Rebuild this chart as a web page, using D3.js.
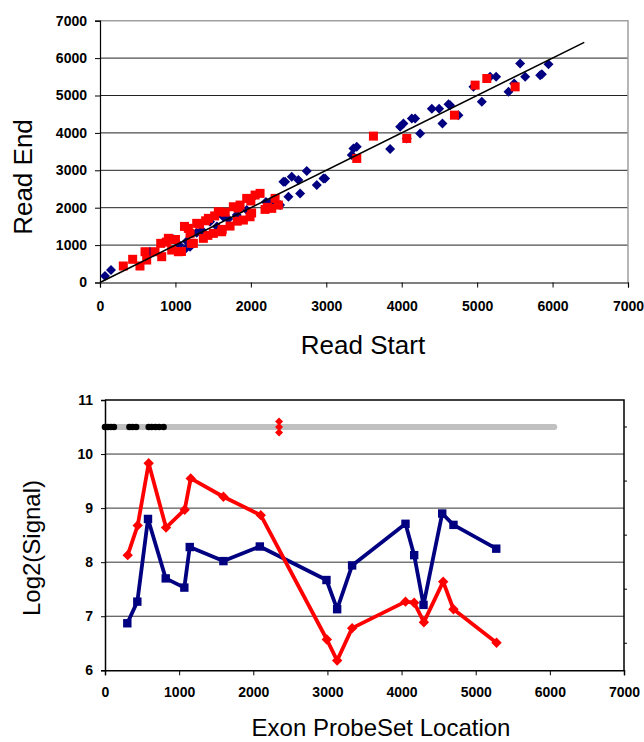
<!DOCTYPE html>
<html><head><meta charset="utf-8">
<script src="https://cdn.jsdelivr.net/npm/d3@7"></script>
<style>body{margin:0;background:#fff}svg{display:block}</style>
</head><body>
<svg id="c" width="644" height="742"></svg>
<script>
// ---- Top chart data (Read Start vs Read End) ----
const blueStart = [66,146,663,972,1127,1194,1282,1459,1635,1813,1945,2034,2387,2454,2542,2498,2630,2653,2741,2874,2962,3360,3404,3338,3846,3979,4023,4067,4134,4178,4244,4399,4496,4540,4620,4642,4752,4951,5062,5172,5252,5416,5491,5570,5637,5836,5858,5946,1050,1150,1350,1550,1700,2200,2300,2250,2431,2984];
const blueEnd   = [174,334,823,1154,887,957,1331,1625,1758,1803,1937,2292,2070,2693,2827,2292,2738,2383,2979,2605,2784,3585,3628,3406,3567,4163,4253,3852,4387,4387,3986,4644,4644,4253,4769,4742,4475,5231,4830,5498,5498,5098,5321,5856,5498,5544,5570,5838,1000,1100,1400,1500,1700,2150,2200,2100,2693,2784];
const redStart = [309,433,530,597,619,729,805,818,906,951,1039,1171,1194,1282,1238,1370,1437,1503,1569,1613,1724,1768,1857,1901,1945,1989,2056,2122,2188,2277,2321,2365,3404,3625,4067,4699,4973,5128,5504,1000,1120,1320,1400,1520,1660,1830,2000,1210,1430,1620,1820,2010,2220,880,1080];
const redEnd   = [441,620,441,823,601,823,1047,690,1181,868,823,1448,1314,1582,1047,1181,1715,1314,1892,1357,1509,2025,2070,1670,2249,1758,2338,2383,1955,1982,2249,2070,3317,3914,3852,4475,5277,5455,5231,1150,1500,1560,1650,1780,1880,1990,2180,1050,1260,1420,1640,1860,2010,1080,830];
const fitLine = [[0,0],[6420,6420]];
const topTicks = [0,1000,2000,3000,4000,5000,6000,7000];

// ---- Bottom chart data (Exon ProbeSet Location vs Log2 Signal) ----
const redLoc = [306,441,589,823,1075,1156,1597,2101,2992,3131,3333,4053,4170,4301,4561,4700,5281];
const redSig = [8.13,8.68,9.83,8.64,8.97,9.55,9.21,8.87,6.57,6.18,6.78,7.27,7.25,6.89,7.64,7.13,6.51];
const blueLoc = [301,436,580,819,1070,1143,1597,2088,2987,3131,3333,4053,4170,4296,4548,4700,5277];
const blueSig = [6.87,7.27,8.80,7.70,7.53,8.28,8.02,8.29,7.67,7.13,7.94,8.71,8.13,7.21,8.90,8.69,8.25];
const barRange = [0,6060];
const barLevel = 10.5;
const blackDots = [0,40,80,120,330,370,420,590,630,680,730,790];
const redMarkLoc = [2348,2348,2348];
const redMarkSig = [10.4,10.5,10.6];
const botXTicks = [0,1000,2000,3000,4000,5000,6000,7000];
const botYTicks = [6,7,8,9,10,11];

const svg = d3.select('#c');
const NAVY = '#000080', RED = '#ff0000';
const diamond = r => `M0,${-r}L${r},0L0,${r}L${-r},0Z`;

// ================= TOP CHART =================
const x1 = d3.scaleLinear().domain([0,7000]).range([100,628]);
const y1 = d3.scaleLinear().domain([0,7000]).range([282.5,20.7]);
const g1 = svg.append('g');
g1.selectAll('.gl').data(topTicks.slice(1,-1)).enter().append('line')
  .attr('x1',x1(0)).attr('x2',x1(7000)).attr('y1',d=>y1(d)).attr('y2',d=>y1(d))
  .attr('stroke','#222').attr('stroke-width',1);
g1.append('path').attr('d',`M${x1(0)},${y1(7000)}H${x1(7000)}V${y1(0)}`)
  .attr('fill','none').attr('stroke','#a0a0a0').attr('stroke-width',1.5);
const ax1 = g1.append('g').attr('transform',`translate(0,${y1(0)})`)
  .call(d3.axisBottom(x1).tickValues(topTicks).tickSize(5).tickPadding(14).tickFormat(d3.format('d')));
const ay1 = g1.append('g').attr('transform',`translate(${x1(0)},0)`)
  .call(d3.axisLeft(y1).tickValues(topTicks).tickSize(5).tickPadding(8).tickFormat(d3.format('d')));
[ax1,ay1].forEach(a=>{a.select('.domain').attr('stroke','#000').attr('stroke-width',1.2);
  a.selectAll('.tick line').attr('stroke','#000');
  a.selectAll('text').attr('font-family','Liberation Sans, Arial, sans-serif').attr('font-size',14).attr('font-weight','bold').attr('fill','#000');});
g1.selectAll('.bd').data(blueStart.map((s,i)=>[s,blueEnd[i]])).enter().append('path')
  .attr('d',diamond(5)).attr('transform',d=>`translate(${x1(d[0])},${y1(d[1])})`).attr('fill',NAVY);
g1.selectAll('.rs').data(redStart.map((s,i)=>[s,redEnd[i]])).enter().append('rect')
  .attr('x',d=>x1(d[0])-4.5).attr('y',d=>y1(d[1])-4.5).attr('width',9).attr('height',9).attr('fill',RED);
g1.append('path').attr('d',d3.line().x(d=>x1(d[0])).y(d=>y1(d[1]))(fitLine))
  .attr('stroke','#000').attr('stroke-width',1.6).attr('fill','none');
svg.append('text').attr('x',363).attr('y',354).attr('text-anchor','middle')
  .attr('font-family','Liberation Sans, Arial, sans-serif').attr('font-size',26).text('Read Start');
svg.append('text').attr('transform','translate(32,177) rotate(-90)').attr('text-anchor','middle')
  .attr('font-family','Liberation Sans, Arial, sans-serif').attr('font-size',26).text('Read End');

// ================= BOTTOM CHART =================
const x2 = d3.scaleLinear().domain([0,7000]).range([105,624]);
const y2 = d3.scaleLinear().domain([6,11]).range([670.3,400]);
const g2 = svg.append('g');
g2.selectAll('.gl').data(botYTicks.slice(1,-1)).enter().append('line')
  .attr('x1',x2(0)).attr('x2',x2(7000)).attr('y1',d=>y2(d)).attr('y2',d=>y2(d))
  .attr('stroke','#333').attr('stroke-width',1);
g2.append('path').attr('d',`M${x2(0)},${y2(11)}H${x2(7000)}V${y2(6)}`)
  .attr('fill','none').attr('stroke','#000').attr('stroke-width',1.5);
g2.selectAll('.rt').data([6.5,7.5,8.5,9.5,10.5]).enter().append('line')
  .attr('x1',x2(7000)).attr('x2',x2(7000)+3).attr('y1',d=>y2(d)).attr('y2',d=>y2(d)).attr('stroke','#000');
const ax2 = g2.append('g').attr('transform',`translate(0,${y2(6)})`)
  .call(d3.axisBottom(x2).tickValues(botXTicks).tickSize(5).tickPadding(12).tickFormat(d3.format('d')));
const ay2 = g2.append('g').attr('transform',`translate(${x2(0)},0)`)
  .call(d3.axisLeft(y2).tickValues(botYTicks).tickSize(4).tickPadding(8).tickFormat(d3.format('d')));
[ax2,ay2].forEach(a=>{a.select('.domain').attr('stroke','#000').attr('stroke-width',1.5);
  a.selectAll('.tick line').attr('stroke','#000');
  a.selectAll('text').attr('font-family','Liberation Sans, Arial, sans-serif').attr('font-size',14).attr('font-weight','bold').attr('fill','#000');});
g2.append('line').attr('x1',x2(barRange[0])).attr('x2',x2(barRange[1])).attr('y1',y2(barLevel)).attr('y2',y2(barLevel))
  .attr('stroke','#c0c0c0').attr('stroke-width',6).attr('stroke-linecap','round');
g2.selectAll('.bk').data(blackDots).enter().append('circle')
  .attr('cx',d=>x2(d)).attr('cy',y2(barLevel)).attr('r',3.3).attr('fill','#000');
g2.selectAll('.rm').data(redMarkLoc.map((l,i)=>[l,redMarkSig[i]])).enter().append('path')
  .attr('d',diamond(4)).attr('transform',d=>`translate(${x2(d[0])},${y2(d[1])})`).attr('fill',RED);
const ln = d3.line().x(d=>x2(d[0])).y(d=>y2(d[1]));
const redPts = redLoc.map((l,i)=>[l,redSig[i]]);
const bluePts = blueLoc.map((l,i)=>[l,blueSig[i]]);
g2.append('path').attr('d',ln(bluePts)).attr('stroke',NAVY).attr('stroke-width',3.8).attr('fill','none').attr('stroke-linejoin','round');
g2.selectAll('.bm').data(bluePts).enter().append('rect')
  .attr('x',d=>x2(d[0])-4.2).attr('y',d=>y2(d[1])-4.2).attr('width',8.4).attr('height',8.4).attr('fill',NAVY);
g2.append('path').attr('d',ln(redPts)).attr('stroke',RED).attr('stroke-width',3.8).attr('fill','none').attr('stroke-linejoin','round');
g2.selectAll('.rd').data(redPts).enter().append('path')
  .attr('d',diamond(5.2)).attr('transform',d=>`translate(${x2(d[0])},${y2(d[1])})`).attr('fill',RED);
svg.append('text').attr('x',381).attr('y',736).attr('text-anchor','middle')
  .attr('font-family','Liberation Sans, Arial, sans-serif').attr('font-size',24).text('Exon ProbeSet Location');
svg.append('text').attr('transform','translate(40,548) rotate(-90)').attr('text-anchor','middle')
  .attr('font-family','Liberation Sans, Arial, sans-serif').attr('font-size',24).text('Log2(Signal)');
</script>
</body></html>
